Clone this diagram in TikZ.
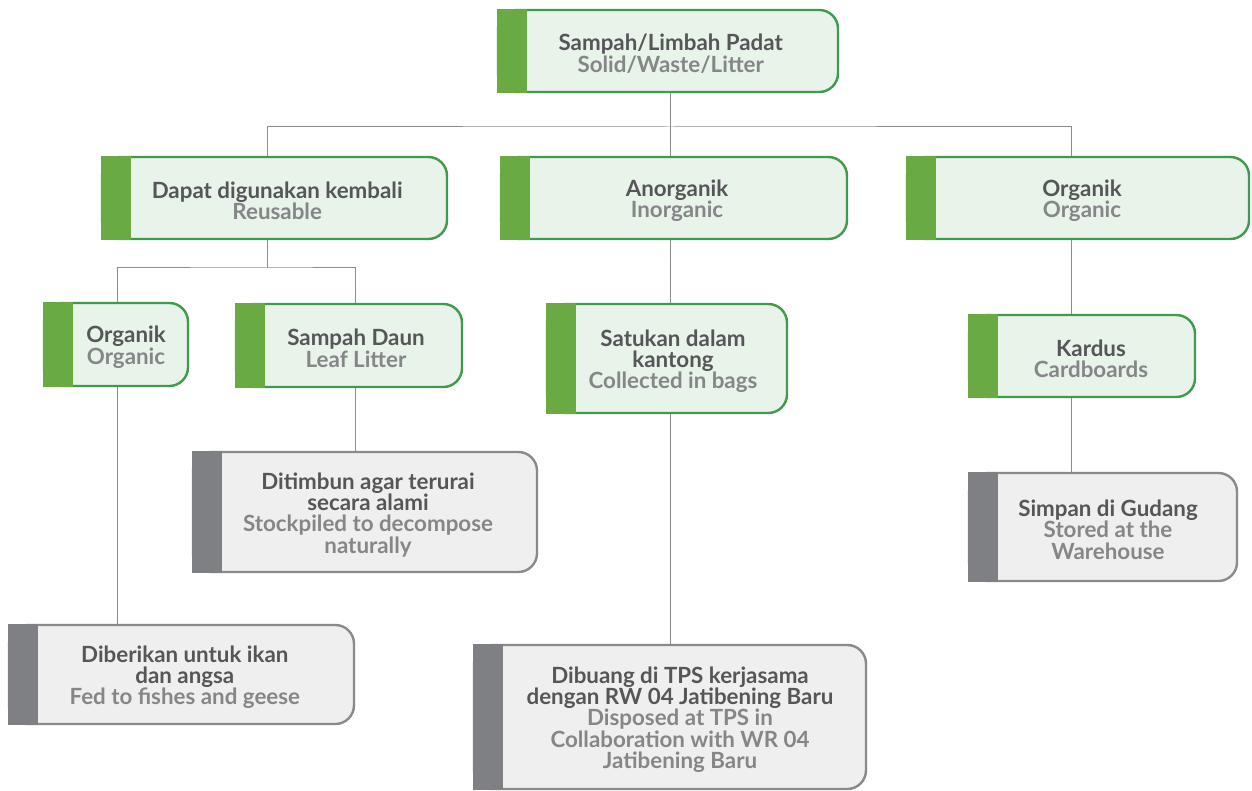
\documentclass[tikz,border=0pt]{standalone}
\usepackage{fontspec}
\setmainfont{Lato}
\usetikzlibrary{positioning}
\definecolor{gbarc}{HTML}{6AAA43}
\definecolor{glinec}{HTML}{3F9A4B}
\definecolor{gfillc}{HTML}{E8F3EA}
\definecolor{sbarc}{HTML}{7F8083}
\definecolor{slinec}{HTML}{8A8A8A}
\definecolor{sfillc}{HTML}{EFEFEF}
\definecolor{ttlc}{HTML}{555658}
\definecolor{subc}{HTML}{858688}
\definecolor{linkc}{HTML}{8C8C8C}
\newcommand{\subtxt}{\color{subc}}
% centred text block, pushed right by half of #1
\newcommand{\btext}[2]{\hspace*{#1}\vbox{\vskip4pt\let\\\cr\halign{\hfil{##}\hfil\cr #2\crcr}}}
\tikzset{
    gbox/.style={rectangle, draw=glinec, fill=gfillc, line width=1.8pt, rounded corners=14pt, text=ttlc, inner sep=0pt, font=\fontsize{16.75}{16}\selectfont\bfseries},
    sbox/.style={gbox, draw=slinec, fill=sfillc},
    link/.style={draw=linkc, line width=0.75pt}
}

\begin{document}
\begin{tikzpicture}[x=0.75pt, y=-0.75pt]
    \useasboundingbox (0,0) rectangle (1252,791);

    % level 0 and 1
    \node[gbox, minimum width=255pt, minimum height=61.5pt] (top) at (668,51) {\btext{4pt}{Sampah/Limbah Padat\\\subtxt Solid/Waste/Litter}};
    \node[gbox, minimum width=258.75pt, minimum height=61.5pt] (reuse) at (274.5,198) {\btext{4pt}{Dapat digunakan kembali\\\subtxt Reusable}};
    \node[gbox, minimum width=259.5pt, minimum height=61.5pt] (anorg) at (674,198) {\btext{4.5pt}{Anorganik\\\subtxt Inorganic}};
    \node[gbox, minimum width=256.5pt, minimum height=61.5pt] (org) at (1078,198) {\btext{6pt}{Organik\\\subtxt Organic}};

    % level 2
    \node[gbox, minimum width=108pt, minimum height=62.25pt] (orgA) at (116,344.5) {\btext{15pt}{Organik\\\subtxt Organic}};
    \node[gbox, minimum width=169.5pt, minimum height=62.25pt] (daun) at (349,345.5) {\btext{10.5pt}{Sampah Daun\\\subtxt Leaf Litter}};
    \node[gbox, minimum width=180pt, minimum height=81.75pt] (satu) at (667,358.5) {\btext{9pt}{Satukan dalam\\kantong\\\subtxt Collected in bags}};
    \node[gbox, minimum width=169.5pt, minimum height=61.5pt] (kard) at (1082,356) {\btext{13.5pt}{Kardus\\\subtxt Cardboards}};

    % level 3
    \node[sbox, minimum width=258pt, minimum height=90pt] (ditim) at (365,512) {\btext{4.5pt}{Ditimbun agar terurai\\secara alami\\\subtxt Stockpiled to decompose\\\subtxt naturally}};
    \node[sbox, minimum width=201pt, minimum height=81pt] (simp) at (1103,527) {\btext{7.5pt}{Simpan di Gudang\\\subtxt Stored at the\\\subtxt Warehouse}};
    \node[sbox, minimum width=258.75pt, minimum height=74.25pt] (diber) at (181.5,674.5) {\btext{5pt}{Diberikan untuk ikan\\dan angsa\\\subtxt Fed to fishes and geese}};
    \node[sbox, minimum width=294pt, minimum height=108pt] (dibu) at (670,717) {\btext{15pt}{Dibuang di TPS kerjasama\\dengan RW 04 Jatibening Baru\\\subtxt Disposed at TPS in\\\subtxt Collaboration with WR 04\\\subtxt Jatibening Baru}};

    % side bars
    \foreach \n in {top, reuse, anorg, org, orgA, daun, satu, kard}
        \fill[gbarc] (\n.south west) rectangle ([xshift=22.5pt]\n.north west);
    \foreach \n in {ditim, simp, diber, dibu}
        \fill[sbarc] (\n.south west) rectangle ([xshift=22.5pt]\n.north west);

    % columns and buses
    \coordinate (colA) at (117,0);
    \coordinate (colB) at (267,0);
    \coordinate (colC) at (355,0);
    \coordinate (colM) at (670,0);
    \coordinate (colR) at (1071,0);
    \coordinate (bus1) at (670,127);
    \coordinate (bus2) at (267,268);

    \draw[link] (top.south -| colM) -- (anorg.north -| colM);
    \draw[link] (reuse.north -| colB) |- (bus1) -| (org.north -| colR);
    \draw[link] (reuse.south -| colB) -- (bus2);
    \draw[link] (orgA.north -| colA) |- (bus2) -| (daun.north -| colC);
    \draw[link] (orgA.south -| colA) -- (diber.north -| colA);
    \draw[link] (daun.south -| colC) -- (ditim.north -| colC);
    \draw[link] (anorg.south -| colM) -- (satu.north -| colM);
    \draw[link] (satu.south -| colM) -- (dibu.north -| colM);
    \draw[link] (org.south -| colR) -- (kard.north -| colR);
    \draw[link] (kard.south -| colR) -- (simp.north -| colR);
\end{tikzpicture}
\end{document}
